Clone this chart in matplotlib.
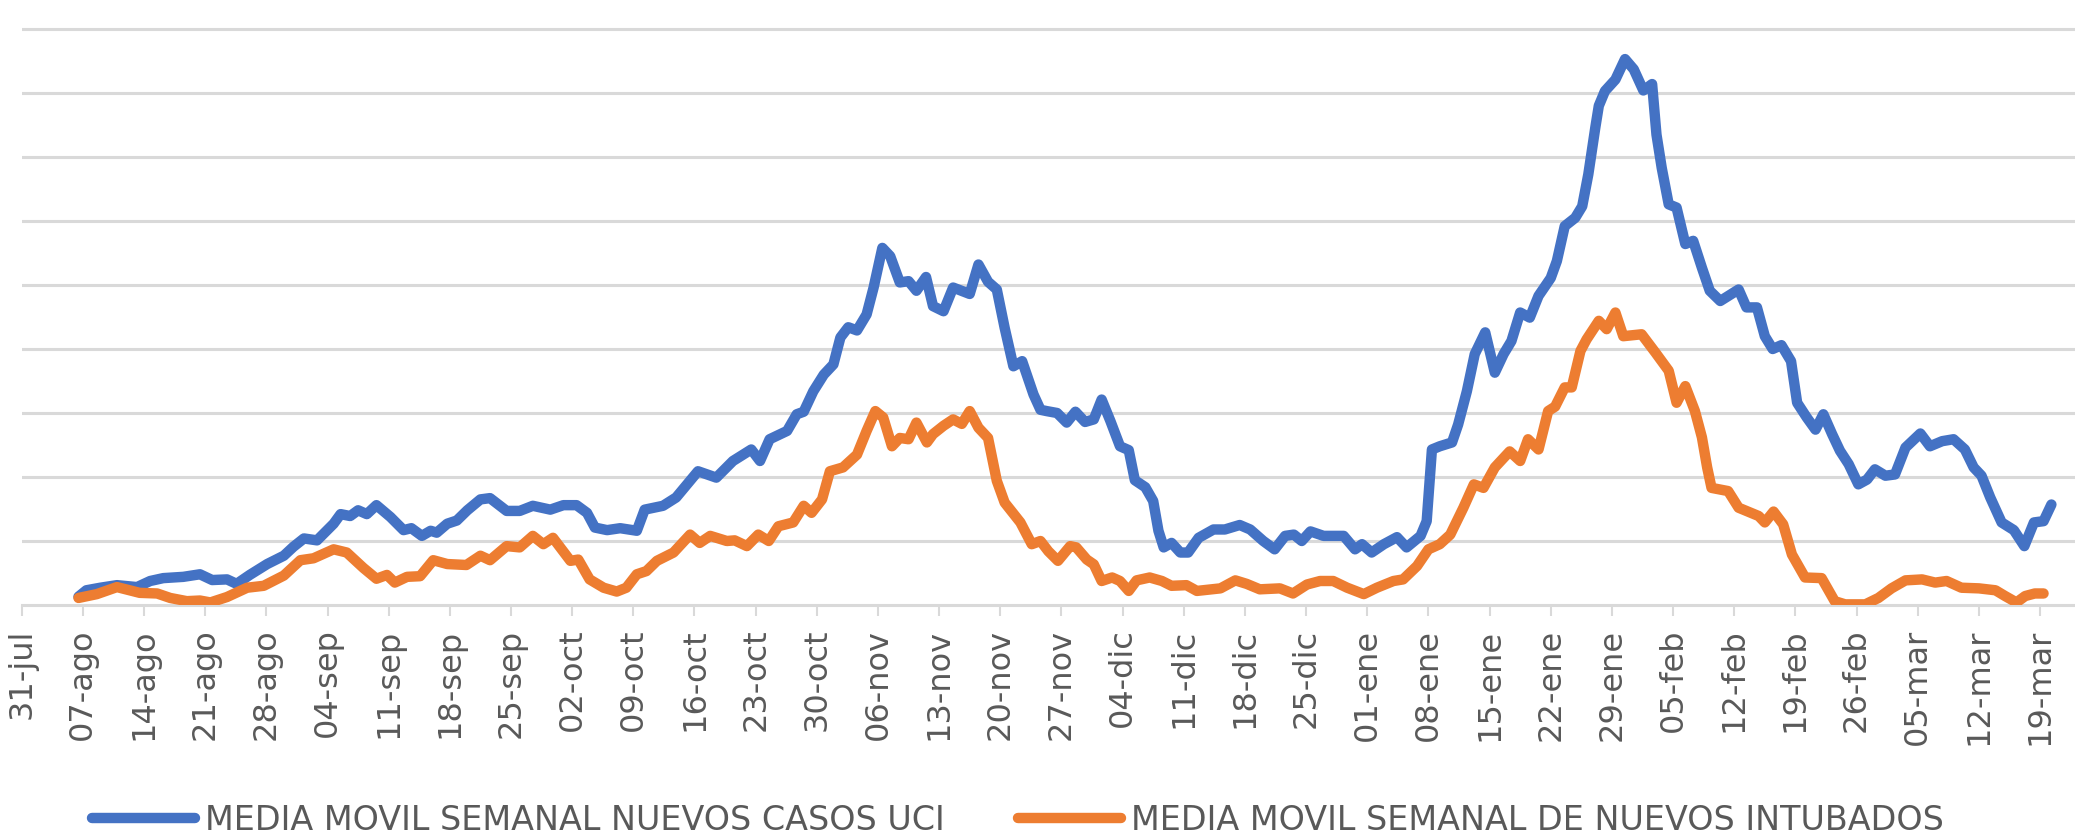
import matplotlib
matplotlib.use("Agg")
import matplotlib.pyplot as plt

# days counted from 31-jul, values in gridline units (one gridline = 1)
dias_uci = [6.5, 7.4, 9.0, 10.9, 13.2, 14.7, 16.2, 18.5, 20.4, 21.8, 23.5, 24.6, 26.1, 28.1,
            30.0, 31.1, 32.3, 33.8, 35.7, 36.5, 37.6, 38.5, 39.5, 40.6, 42.2, 43.7, 44.6,
            45.8, 46.8, 47.5, 48.7, 49.8, 51.0, 52.5, 53.6, 55.5, 57.0, 58.5, 60.5, 62.0,
            63.5, 64.7, 65.6, 67.0, 68.5, 70.4, 71.3, 73.4, 74.9, 77.4, 79.5, 81.4, 83.5,
            84.5, 85.6, 87.6, 88.7, 89.5, 90.6, 91.8, 92.9, 93.7, 94.6, 95.6, 96.7, 97.5,
            98.5, 99.4, 100.5, 101.5, 102.4, 103.5, 104.3, 105.5, 106.6, 108.5, 109.5,
            110.6, 111.6, 112.5, 113.5, 114.5, 115.8, 116.6, 117.3, 118.5, 119.6, 120.6,
            121.7, 122.7, 123.6, 124.6, 125.7, 126.7, 127.4, 128.6, 129.5, 130.1, 130.7,
            131.6, 132.6, 133.5, 134.7, 136.4, 137.7, 139.4, 140.6, 142.1, 143.4, 144.6,
            145.6, 146.5, 147.5, 149.0, 151.3, 152.6, 153.4, 154.5, 155.9, 157.4, 158.5,
            160.1, 160.8, 161.4, 162.3, 163.7, 164.4, 165.4, 166.3, 167.5, 168.6, 169.6,
            170.5, 171.5, 172.6, 173.6, 175.0, 175.7, 176.6, 177.8, 178.6, 179.3, 180.1,
            180.5, 181.2, 182.4, 183.5, 184.5, 185.6, 186.6, 187.1, 187.7, 188.5, 189.4,
            190.4, 191.3, 192.3, 193.2, 194.4, 196.5, 197.4, 198.6, 199.5, 200.4, 201.4,
            202.5, 203.2, 204.3, 205.3, 206.2, 207.2, 208.1, 209.1, 210.2, 211.2, 212.1,
            213.3, 214.4, 215.6, 217.3, 218.4, 219.8, 221.1, 222.4, 223.4, 224.3, 225.3,
            226.6, 228.0, 229.2, 230.3, 231.4, 232.3]
uci = [0.13, 0.23, 0.27, 0.31, 0.28, 0.375, 0.42, 0.44, 0.48, 0.39, 0.40, 0.33, 0.47, 0.64,
       0.77, 0.91, 1.04, 1.01, 1.27, 1.42, 1.39, 1.48, 1.42, 1.56, 1.375, 1.17, 1.20,
       1.08, 1.16, 1.13, 1.27, 1.32, 1.48, 1.65, 1.67, 1.47, 1.47, 1.55, 1.49, 1.56,
       1.56, 1.44, 1.21, 1.17, 1.20, 1.16, 1.49, 1.55, 1.68, 2.09, 1.99, 2.25, 2.43,
       2.25, 2.59, 2.72, 2.98, 3.02, 3.34, 3.60, 3.76, 4.18, 4.34, 4.29, 4.54, 4.96,
       5.58, 5.45, 5.04, 5.06, 4.91, 5.125, 4.67, 4.59, 4.96, 4.86, 5.32,
       5.05, 4.93, 4.33, 3.73, 3.81, 3.29, 3.05, 3.03, 3.00, 2.85, 3.02,
       2.86, 2.90, 3.21, 2.875, 2.48, 2.42, 1.95, 1.84, 1.625, 1.16, 0.90,
       0.97, 0.82, 0.82, 1.05, 1.18, 1.18, 1.25, 1.18, 1.00, 0.87, 1.08,
       1.10, 1.00, 1.15, 1.08, 1.08, 0.87, 0.95, 0.82, 0.95, 1.06, 0.90,
       1.08, 1.31, 2.43, 2.48, 2.54, 2.82, 3.34, 3.92, 4.26, 3.63, 3.92,
       4.125, 4.57, 4.49, 4.83, 5.11, 5.375, 5.92, 6.05, 6.23, 6.73, 7.46,
       7.80, 8.03, 8.21, 8.53, 8.37, 8.04, 8.14, 7.35, 6.83, 6.26, 6.21,
       5.64, 5.69, 5.27, 4.91, 4.75, 4.93, 4.65, 4.65, 4.20, 4.00, 4.06,
       3.81, 3.16, 2.93, 2.74, 2.98, 2.67, 2.41, 2.20, 1.885, 1.96, 2.12,
       2.02, 2.04, 2.46, 2.68, 2.48, 2.56, 2.59, 2.43, 2.15, 2.02, 1.68,
       1.29, 1.17, 0.92, 1.29, 1.31, 1.57]

dias_intub = [6.5, 8.6, 10.9, 13.5, 15.5, 17.0, 18.9, 20.4, 21.6, 23.5, 25.8, 27.7, 30.0,
              31.9, 33.4, 35.7, 37.2, 39.1, 40.6, 41.8, 42.7, 44.1, 45.6, 47.1, 48.7, 50.9,
              52.5, 53.6, 55.5, 57.0, 58.5, 59.7, 60.8, 62.8, 63.7, 65.0, 66.6, 68.1, 69.2,
              70.4, 71.5, 72.7, 74.6, 76.5, 77.6, 78.8, 80.7, 81.6, 83.0, 84.3, 85.5, 86.6,
              88.3, 89.5, 90.4, 91.6, 92.5, 94.0, 95.6, 96.7, 97.7, 98.6, 99.6, 100.5,
              101.5, 102.4, 103.6, 104.3, 105.5, 106.6, 107.6, 108.5, 109.5, 110.6, 111.6,
              112.5, 114.3, 115.6, 116.6, 117.5, 118.6, 120.0, 120.7, 121.9, 122.7, 123.6,
              124.8, 125.7, 126.7, 127.6, 129.1, 130.5, 131.6, 133.3, 134.5, 137.2, 138.9,
              140.2, 141.7, 144.0, 145.5, 147.1, 148.6, 150.1, 151.7, 153.6, 155.1, 157.0,
              158.1, 159.7, 161.0, 162.3, 163.5, 165.0, 166.2, 167.3, 168.6, 170.3, 171.5,
              172.4, 173.6, 174.7, 175.5, 176.6, 177.4, 178.4, 179.1, 180.5, 181.4, 182.4,
              183.3, 185.4, 187.0, 188.5, 189.4, 190.4, 191.5, 192.3, 192.9, 193.4, 195.3,
              196.5, 198.8, 199.5, 200.5, 201.6, 202.6, 204.1, 206.0, 207.5, 208.7, 211.0,
              212.5, 214.0, 215.6, 217.5, 219.0, 220.3, 222.0, 224.0, 225.9, 227.0, 228.3,
              229.3, 230.4, 231.4]
intubados = [0.11, 0.17, 0.28, 0.19, 0.18, 0.11, 0.06, 0.07, 0.04, 0.125, 0.27, 0.30, 0.46,
             0.70, 0.73, 0.87, 0.82, 0.58, 0.41, 0.47, 0.35, 0.44, 0.45, 0.70, 0.64, 0.625,
             0.77, 0.70, 0.92, 0.90, 1.08, 0.95, 1.05, 0.69, 0.71, 0.40, 0.27, 0.21, 0.27,
             0.48, 0.53, 0.69, 0.82, 1.10, 0.97, 1.08, 1.00, 1.01, 0.92, 1.10, 1.00, 1.23,
             1.29, 1.55, 1.44, 1.65, 2.09, 2.15, 2.35, 2.72, 3.03, 2.93, 2.48, 2.61,
             2.59, 2.85, 2.54, 2.67, 2.80, 2.90, 2.83, 3.03, 2.77, 2.61, 1.94,
             1.60, 1.29, 0.95, 1.00, 0.84, 0.69, 0.92, 0.90, 0.71, 0.635, 0.375,
             0.43, 0.375, 0.22, 0.385, 0.43, 0.375, 0.30, 0.31, 0.22, 0.26, 0.385,
             0.33, 0.245, 0.26, 0.18, 0.32, 0.375, 0.375, 0.27, 0.17, 0.27, 0.375,
             0.40, 0.61, 0.87, 0.95, 1.10, 1.52, 1.885, 1.83, 2.15, 2.40, 2.25,
             2.59, 2.43, 3.03, 3.10, 3.40, 3.40, 3.97, 4.15, 4.44, 4.31, 4.57,
             4.20, 4.23, 3.94, 3.66, 3.16, 3.42, 3.03, 2.62, 2.15, 1.83, 1.78,
             1.52, 1.39, 1.29, 1.46, 1.26, 0.79, 0.43, 0.42, 0.06, 0.01, 0.01,
             0.11, 0.26, 0.385, 0.40, 0.35, 0.375, 0.27, 0.26, 0.23, 0.14, 0.04,
             0.14, 0.18, 0.18]

etiquetas = ['31-jul', '07-ago', '14-ago', '21-ago', '28-ago', '04-sep', '11-sep', '18-sep',
             '25-sep', '02-oct', '09-oct', '16-oct', '23-oct', '30-oct', '06-nov', '13-nov',
             '20-nov', '27-nov', '04-dic', '11-dic', '18-dic', '25-dic', '01-ene', '08-ene',
             '15-ene', '22-ene', '29-ene', '05-feb', '12-feb', '19-feb', '26-feb', '05-mar',
             '12-mar', '19-mar']

nombre_uci = 'MEDIA MOVIL SEMANAL NUEVOS CASOS UCI'
nombre_intub = 'MEDIA MOVIL SEMANAL DE NUEVOS INTUBADOS'

azul = '#4472C4'
naranja = '#ED7D31'
gris = '#D9D9D9'
texto = '#595959'

fig = plt.figure(figsize=(20.75, 8.36), dpi=100)
ax = fig.add_axes([21.7 / 2075, 231 / 836, 1 - 21.7 / 2075, 605 / 836])

ax.plot(dias_uci, uci, color=azul, lw=7.5, solid_capstyle='round',
        solid_joinstyle='round', label=nombre_uci, zorder=3)
ax.plot(dias_intub, intubados, color=naranja, lw=7.5, solid_capstyle='round',
        solid_joinstyle='round', label=nombre_intub, zorder=4)

ax.set_xlim(0, 235)
ax.set_ylim(0, 605 / 64)

ax.set_yticks(range(1, 10))
ax.yaxis.grid(True, color=gris, lw=2.2)
ax.tick_params(axis='y', left=False, labelleft=False)
ax.set_axisbelow(True)

ax.set_xticks([7 * i for i in range(len(etiquetas))])
ax.set_xticklabels(etiquetas, rotation=90, fontsize=23, color=texto)
ax.tick_params(axis='x', length=8, width=1.5, color=gris, pad=9)

for lado in ['top', 'right', 'left']:
    ax.spines[lado].set_visible(False)
ax.spines['bottom'].set_color(gris)
ax.spines['bottom'].set_linewidth(2.2)

fig.legend(loc='center', bbox_to_anchor=(1018 / 2075, 16 / 836), ncol=2, frameon=False,
           fontsize=24, labelcolor=texto, handlelength=3.1, handletextpad=0.3,
           columnspacing=2.2, borderaxespad=0, borderpad=0)

fig.savefig('out.png', dpi=100)
